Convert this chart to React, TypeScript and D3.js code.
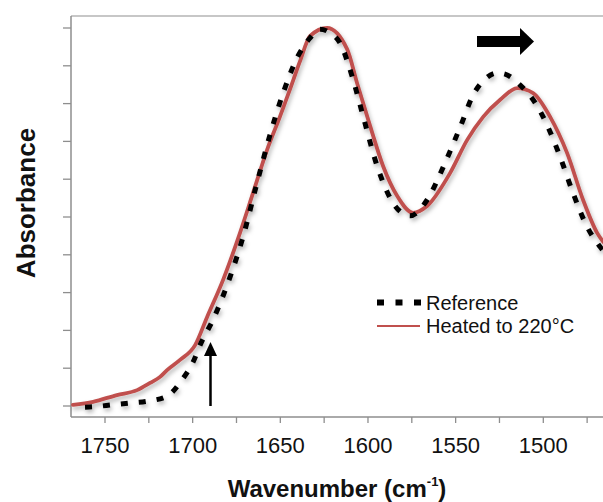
import React from "react";
import * as d3 from "d3";

// Wavenumber (cm-1) and normalized absorbance
const heatedWn = [1768.3, 1756.8, 1743.2, 1731.7, 1724.3, 1718.6, 1714.6, 1707.2, 1698.6, 1691.8, 1682.7, 1673.0, 1665.6, 1657.6, 1650.1, 1644.4, 1638.7, 1633.0, 1623.3, 1611.9, 1606.2, 1598.8, 1591.4, 1583.4, 1574.3, 1566.3, 1553.2, 1543.4, 1534.3, 1524.6, 1514.9, 1505.8, 1496.1, 1486.4, 1477.3, 1469.3, 1465.8];
const heatedAbs = [0.003, 0.011, 0.029, 0.042, 0.061, 0.077, 0.095, 0.122, 0.161, 0.235, 0.333, 0.458, 0.563, 0.677, 0.767, 0.839, 0.913, 0.979, 1.0, 0.944, 0.854, 0.741, 0.635, 0.556, 0.511, 0.529, 0.616, 0.704, 0.765, 0.81, 0.841, 0.828, 0.765, 0.669, 0.545, 0.458, 0.434];

const refWn = [1761.4, 1756.8, 1746.0, 1735.7, 1725.5, 1714.6, 1706.1, 1699.8, 1695.2, 1688.4, 1678.7, 1671.3, 1663.3, 1655.9, 1648.4, 1639.9, 1633.0, 1627.3, 1621.6, 1615.9, 1609.1, 1602.8, 1594.8, 1584.5, 1576.0, 1566.3, 1557.1, 1547.4, 1540.0, 1533.2, 1526.3, 1521.8, 1513.2, 1504.6, 1497.8, 1490.4, 1483.0, 1475.0, 1467.6, 1465.8];
const refAbs = [-0.003, -0.002, 0.003, 0.008, 0.013, 0.026, 0.069, 0.116, 0.167, 0.228, 0.341, 0.447, 0.59, 0.717, 0.828, 0.926, 0.974, 0.997, 0.987, 0.96, 0.873, 0.767, 0.635, 0.529, 0.503, 0.545, 0.632, 0.738, 0.823, 0.865, 0.881, 0.878, 0.849, 0.802, 0.743, 0.659, 0.563, 0.474, 0.421, 0.41];

const xTickLabels = [1750, 1700, 1650, 1600, 1550, 1500];
const xMinorTicks = [1750, 1725, 1700, 1675, 1650, 1625, 1600, 1575, 1550, 1525, 1500, 1475];
const yTicks = [0, 0.1, 0.2, 0.3, 0.4, 0.5, 0.6, 0.7, 0.8, 0.9, 1.0];
const seriesNames = ["Reference", "Heated to 220°C"];

const W = 603;
const H = 502;
const FONT = "'Liberation Sans', Arial, Helvetica, sans-serif";

export default function App() {
  const x = d3.scaleLinear().domain([1750, 1500]).range([105, 543.3]);
  const y = d3.scaleLinear().domain([0, 1]).range([406, 28]);
  const left = 71, top = 16, bottom = 417, right = W;

  const line = d3
    .line<[number, number]>()
    .x((d) => x(d[0]))
    .y((d) => y(d[1]))
    .curve(d3.curveMonotoneX);

  const heated = heatedWn.map((w, i) => [w, heatedAbs[i]] as [number, number]);
  const ref = refWn.map((w, i) => [w, refAbs[i]] as [number, number]);

  const axisColor = "#8e8e8e";
  const red = "#c0504d";

  return (
    <svg
      width={W}
      height={H}
      style={{ position: "absolute", left: 0, top: 0, background: "#fff" }}
      fontFamily={FONT}
    >
      <defs>
        <filter id="shadow" x="-10%" y="-10%" width="120%" height="130%">
          <feDropShadow dx="1.5" dy="3" stdDeviation="2" floodColor="#000" floodOpacity="0.28" />
        </filter>
      </defs>

      {/* frame */}
      <line x1={left} x2={right} y1={top} y2={top} stroke="#b4b4b4" strokeWidth={1.5} />
      <line x1={left} x2={left} y1={top} y2={bottom} stroke={axisColor} strokeWidth={1.5} />
      <line x1={left} x2={right} y1={bottom} y2={bottom} stroke={axisColor} strokeWidth={1.5} />

      {/* y ticks */}
      {yTicks.map((t) => (
        <line key={"yt" + t} x1={left - 8} x2={left} y1={y(t)} y2={y(t)} stroke={axisColor} strokeWidth={1.3} />
      ))}

      {/* x ticks */}
      {xMinorTicks.map((t) => (
        <line key={"xt" + t} x1={x(t)} x2={x(t)} y1={bottom} y2={bottom + 6} stroke={axisColor} strokeWidth={1.3} />
      ))}
      {xTickLabels.map((t) => (
        <text key={"xl" + t} x={x(t)} y={453} textAnchor="middle" fontSize={22} fill="#111">
          {t}
        </text>
      ))}

      {/* axis titles */}
      <text x={337} y={497} textAnchor="middle" fontSize={24} fontWeight="bold" fill="#111">
        Wavenumber (cm
        <tspan fontSize={13} dy={-11}>-1</tspan>
        <tspan dy={11}>)</tspan>
      </text>
      <text
        transform="translate(35,203) rotate(-90)"
        textAnchor="middle"
        fontSize={26}
        fontWeight="bold"
        fill="#111"
      >
        Absorbance
      </text>

      {/* curves */}
      <g filter="url(#shadow)">
        <path d={line(heated) || ""} fill="none" stroke={red} strokeWidth={3.8} strokeLinejoin="round" strokeLinecap="round" />
        <path d={line(ref) || ""} fill="none" stroke="#000" strokeWidth={5} strokeDasharray="7 11" />
      </g>

      {/* arrows */}
      <line x1={210.5} x2={210.5} y1={406} y2={353} stroke="#000" strokeWidth={2.5} />
      <polygon points="210.5,342 204,356 217,356" fill="#000" />
      <rect x={477} y={36} width={44} height={11} fill="#000" />
      <polygon points="520,28 534,41.5 520,55" fill="#000" />

      {/* legend */}
      <line x1={377} x2={421} y1={302.5} y2={302.5} stroke="#000" strokeWidth={6} strokeDasharray="7 11.5" />
      <text x={426} y={309.5} fontSize={20} fill="#111">{seriesNames[0]}</text>
      <line x1={377} x2={420} y1={326} y2={326} stroke={red} strokeWidth={2} />
      <text x={426} y={333} fontSize={20} fill="#111">{seriesNames[1]}</text>
    </svg>
  );
}
